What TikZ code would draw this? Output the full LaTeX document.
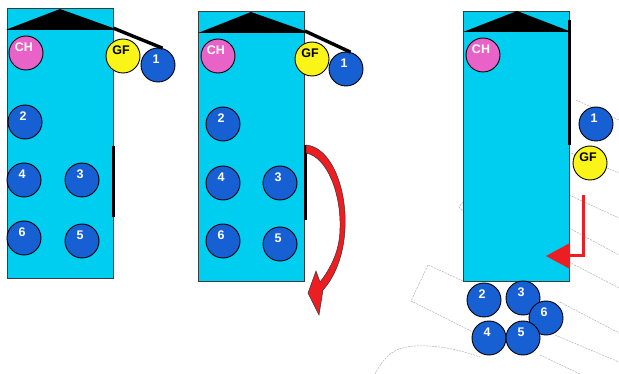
\documentclass[tikz,border=0pt]{standalone}
\usepackage{fontspec}
\setmainfont{Liberation Sans}
\definecolor{boxcyan}{RGB}{0,206,240}
\definecolor{ballblue}{RGB}{22,96,212}
\definecolor{ballpink}{RGB}{232,98,200}
\definecolor{ballyellow}{RGB}{250,244,24}
\definecolor{arrowred}{RGB}{236,30,34}
\definecolor{edgegray}{RGB}{60,60,60}
\definecolor{ghost}{RGB}{175,175,175}
\tikzset{
  tank/.style={draw=edgegray, line width=1pt, fill=boxcyan, minimum width=106pt, minimum height=270pt, inner sep=0pt, rectangle},
  ball/.style={circle, draw=black, line width=0.9pt, fill=ballblue, minimum size=34pt, inner sep=0pt,
     label={[lab, text=white]center:#1}},
  pinkball/.style={ball=#1, fill=ballpink},
  yelball/.style={circle, draw=black, line width=0.9pt, fill=ballyellow, minimum size=34pt, inner sep=0pt,
     label={[lab, text=black]center:#1}},
  lab/.style={font=\fontsize{12.5}{12.5}\selectfont\bfseries, inner sep=0pt, xshift=-2pt, yshift=6pt},
  roof/.style={fill=black},
  bar/.style={draw=black, line width=3pt},
  string/.style={draw=black, line width=3.4pt},
  ghostline/.style={draw=ghost, line width=0.5pt, dash pattern=on 2pt off 1pt},
  redline/.style={draw=arrowred, line width=3pt}
}
\begin{document}
\begin{tikzpicture}[x=1pt,y=-1pt]
\useasboundingbox (0,0) rectangle (619,374);
% faint background drawing
\draw[ghostline] (576,100) -- (619,120);
\draw[ghostline] (571,153) -- (619,173);
\draw[ghostline] (463,202) -- (459,207) -- (463,211);
\draw[ghostline] (569,195) -- (619,218);
\draw[ghostline] (569,228) -- (619,255);
\draw[ghostline] (569,262) -- (619,288);
\draw[ghostline] (463,281) -- (428,265) -- (411,301) -- (473,332);
\draw[ghostline] (560,302) -- (619,333);
\draw[ghostline] (555,335) -- (619,362);
\draw[ghostline] (375,374) .. controls (385,355) and (395,347) .. (415,346) .. controls (440,345) and (460,350) .. (480,357);
\draw[ghostline] (540,355) -- (580,374);

% ---------- panel 1 ----------
\node[tank] (tankA) at (60,144) {};
\fill[roof] (tankA.north west) ++(0,21) -- (60,9) -- (113,28) -- (113,30) -- (7,30) -- cycle;
\coordinate (barAtop) at (113,146);
\coordinate (barAbot) at (113,217);
\draw[bar] (barAtop) -- (barAbot);
\coordinate (cornerA) at (113,28);
\node[pinkball=CH] (chA) at (26,53) {};
\node[yelball=GF] (gfA) at (123,56) {};
\node[ball=1] (b1A) at (158,65) {};
\draw[string] (cornerA) -- (b1A.75);
\node[ball=2] (b2A) at (25,122) {};
\node[ball=4] (b4A) at (24,180) {};
\node[ball=3] (b3A) at (82,180) {};
\node[ball=6] (b6A) at (24,238) {};
\node[ball=5] (b5A) at (82,241) {};

% ---------- panel 2 ----------
\node[tank] (tankB) at (251.5,147) {};
\fill[roof] (198,33) -- (251,12) -- (305,31) -- (305,33) -- cycle;
\coordinate (barBtop) at (305,145);
\coordinate (barBbot) at (305,220);
\draw[bar] (barBtop) -- (barBbot);
\coordinate (cornerB) at (305,31);
\node[pinkball=CH] (chB) at (218,56) {};
\node[yelball=GF] (gfB) at (312,59) {};
\node[ball=1] (b1B) at (346,69) {};
\draw[string] (cornerB) -- (b1B.75);
\node[ball=2] (b2B) at (223,124) {};
\node[ball=4] (b4B) at (223,183) {};
\node[ball=3] (b3B) at (280,183) {};
\node[ball=6] (b6B) at (223,241) {};
\node[ball=5] (b5B) at (280,244) {};
% curved red arrow
\filldraw[fill=arrowred, draw=black!80, line width=0.5pt]
  (306,145) .. controls (331,147) and (347,188) .. (345,228)
  .. controls (344,256) and (334,278) .. (323,290)
  -- (319,315) -- (308,293) -- (316,271) -- (320,282)
  .. controls (331,268) and (340,250) .. (340,228)
  .. controls (341,193) and (327,157) .. (306,153) -- cycle;

% ---------- panel 3 ----------
\node[tank] (tankC) at (516,146.5) {};
\fill[roof] (463,32) -- (517,11) -- (569,31) -- (569,32) -- cycle;
\coordinate (barCtop) at (569,20);
\coordinate (barCbot) at (569,145);
\draw[bar] (barCtop) -- (barCbot);
\node[pinkball=CH] (chC) at (483,55) {};
\node[ball=1] (b1C) at (596,124) {};
\node[yelball=GF] (gfC) at (590,163) {};
\node[ball=2] (b2C) at (484,300) {};
\node[ball=3] (b3C) at (523,298) {};
\node[ball=6] (b6C) at (546,318) {};
\node[ball=4] (b4C) at (489,338) {};
\node[ball=5] (b5C) at (523,338) {};
% red L-shaped arrow
\coordinate (raTop) at (583,195);
\coordinate (raCorner) at (583,256);
\coordinate (raEnd) at (569,256);
\coordinate (raTip) at (546,256);
\draw[redline] (raTop) -- (raCorner) -- (raEnd);
\fill[arrowred] (raTip) -- (570,243) -- (570,269) -- cycle;
\end{tikzpicture}
\end{document}
